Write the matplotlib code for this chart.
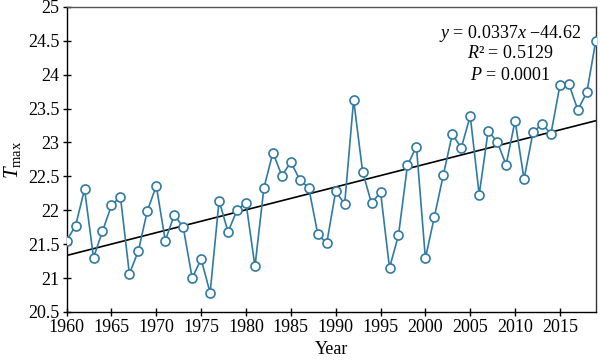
import numpy as np
import matplotlib
matplotlib.use("Agg")
import matplotlib.pyplot as plt

years = list(range(1960, 2020))
tmax = [21.55, 21.77, 22.31, 21.30, 21.69, 22.07, 22.20, 21.06, 21.40, 21.99,
        22.36, 21.55, 21.93, 21.75, 21.00, 21.28, 20.78, 22.14, 21.68, 22.00,
        22.11, 21.17, 22.33, 22.85, 22.51, 22.71, 22.45, 22.33, 21.65, 21.51,
        22.28, 22.09, 23.63, 22.57, 22.10, 22.27, 21.15, 21.63, 22.66, 22.94,
        21.29, 21.90, 22.52, 23.12, 22.92, 23.39, 22.23, 23.17, 23.01, 22.67,
        23.32, 22.46, 23.15, 23.27, 23.13, 23.84, 23.86, 23.48, 23.74, 24.50]
xticks = list(range(1960, 2020, 5))
yticks = [20.5, 21, 21.5, 22, 22.5, 23, 23.5, 24, 24.5, 25]
ytick_labels = ["20.5", "21", "21.5", "22", "22.5", "23", "23.5", "24", "24.5", "25"]
slope, intercept = 0.0337, -44.72
annot = ["$y$ = 0.0337$x$ \u221244.62", "$R$\u00b2 = 0.5129", "$P$ = 0.0001"]

plt.rcParams['font.family'] = ['Liberation Serif', 'DejaVu Serif']
plt.rcParams['mathtext.fontset'] = 'custom'
plt.rcParams['mathtext.it'] = 'Liberation Serif:italic'
plt.rcParams['mathtext.rm'] = 'Liberation Serif'

fig = plt.figure(figsize=(6, 3.61), dpi=100)
ax = fig.add_axes([0.111, 0.136, 0.882, 0.845])

x = np.array(years)
ax.plot(x, slope * x + intercept, color='black', lw=1.2, zorder=2)
ax.plot(years, tmax, color='#2f7ba3', lw=1.2, marker='o', markersize=6.5,
        markerfacecolor='white', markeredgecolor='#2f7ba3', markeredgewidth=1.2, zorder=3)

ax.set_xlim(1960, 2019)
ax.set_ylim(20.5, 25)
ax.set_xticks(xticks)
ax.set_yticks(yticks)
ax.set_yticklabels(ytick_labels)
ax.tick_params(direction='inout', length=6, width=1, labelsize=13, pad=2, colors='black')
for s in ax.spines.values():
    s.set_linewidth(1.0)
ax.spines['top'].set_color('#555555')
ax.spines['right'].set_color('#333333')

ax.set_xlabel('Year', fontsize=13, labelpad=4)
ax.set_ylabel('$T_{\\mathrm{max}}$', fontsize=15, labelpad=4)

for i, t in enumerate(annot):
    fig.text(510/600, 1 - (33 + 21*i)/361, t, ha='center', va='center', fontsize=13)

fig.savefig('out.png', dpi=100)
